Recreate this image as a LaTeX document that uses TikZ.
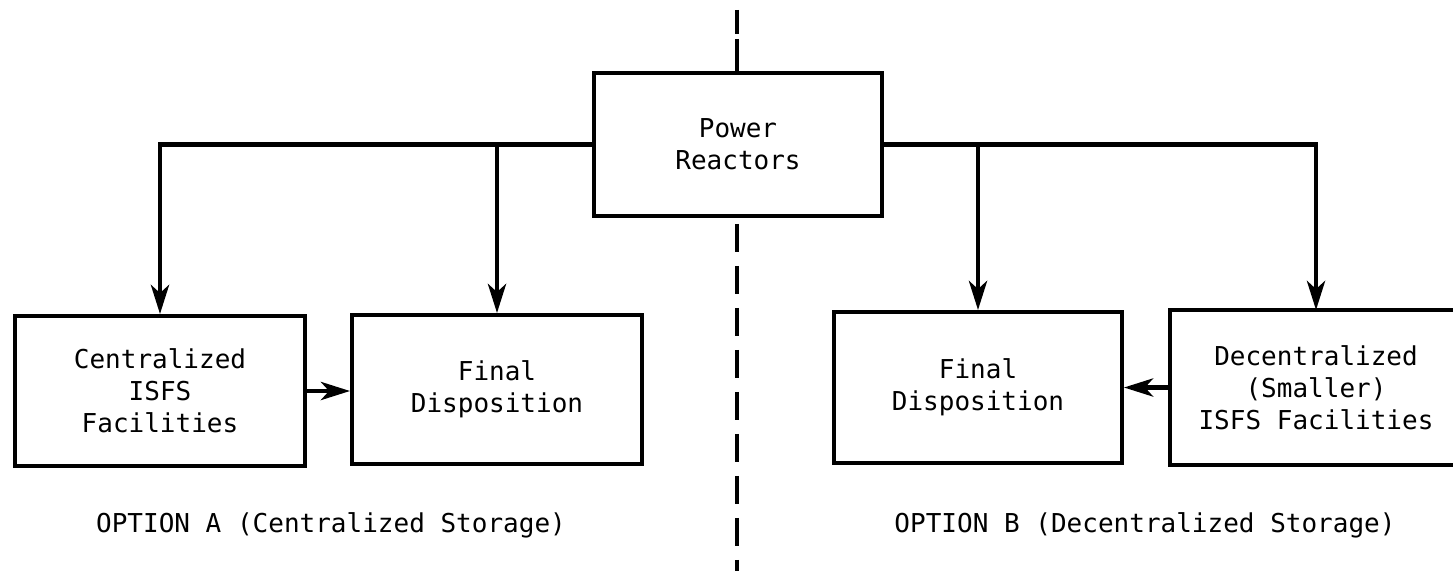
\documentclass[tikz,border=0pt]{standalone}
\usepackage{fontspec}
\setmonofont{DejaVu Sans Mono}
\usetikzlibrary{arrows.meta}

\begin{document}
\begin{tikzpicture}[
    box/.style={draw, line width=1.1pt, inner sep=0pt, align=center,
        font=\ttfamily\fontsize{7.4}{9.1}\selectfont},
    openbox/.style={box, draw=none},
    link/.style={line width=1.4pt},
    flow/.style={link, -{Stealth[length=0.29cm, width=0.18cm, inset=0.08cm]}},
    divider/.style={line width=1.4pt, dash pattern=on 0.28cm off 0.14cm},
    caption/.style={font=\ttfamily\fontsize{7.4}{9.1}\selectfont}
]
        \useasboundingbox (0,0) rectangle (14.53,5.71);

        % top row
        \node [box, minimum width=2.88cm, minimum height=1.43cm] (pr) at (7.38,4.265) {Power\\Reactors};

        % option A
        \node [box, minimum width=2.90cm, minimum height=1.50cm] (cen) at (1.60,1.80) {Centralized\\ISFS\\Facilities};
        \node [box, minimum width=2.90cm, minimum height=1.49cm] (fina) at (4.97,1.815) {Final\\Disposition};

        % option B (right box runs off the page)
        \node [box, minimum width=2.88cm, minimum height=1.51cm] (finb) at (9.78,1.835) {Final\\Disposition};
        \node [openbox, minimum width=2.88cm, minimum height=1.51cm] (dec) at (13.16,1.835) {Decentralized\\(Smaller)\\ISFS Facilities};
        \draw [line width=1.1pt] ([xshift=0.2cm]dec.north east) -- (dec.north west)
            -- (dec.south west) -- ([xshift=0.2cm]dec.south east);

        \draw [flow] (pr.west) -| (cen.north);
        \draw [flow] (fina.north |- pr.west) -- (fina.north);
        \draw [flow] (pr.east) -| (dec.north);
        \draw [flow] (finb.north |- pr.east) -- (finb.north);
        \draw [flow] (cen.east) -- (fina.west |- cen.east);
        \draw [flow] (dec.west) -- (finb.east |- dec.west);

        % dividing line
        \coordinate (top) at (7.37,5.61);
        \coordinate (bot) at (7.37,0);
        \draw [link] (top) -- ++(0,-0.24);
        \draw [link] (7.37,5.32) -- (pr.north -| top);
        \draw [divider] ([yshift=-0.06cm]pr.south -| top) -- (bot);

        \node [caption] (capa) at (3.31,0.46) {OPTION A (Centralized Storage)};
        \node [caption] (capb) at (11.45,0.46) {OPTION B (Decentralized Storage)};
    \end{tikzpicture}
\end{document}
